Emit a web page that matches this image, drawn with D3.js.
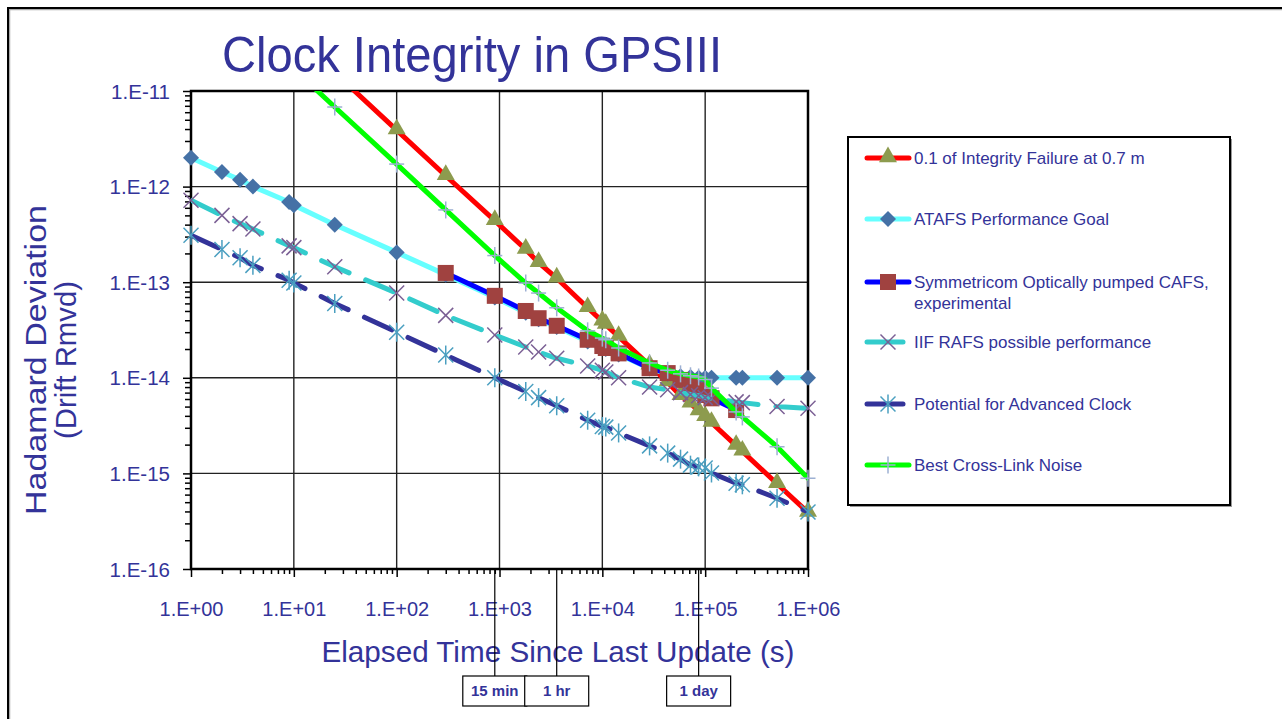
<!DOCTYPE html>
<html>
<head>
<meta charset="utf-8">
<script src="https://cdn.jsdelivr.net/npm/d3@7"></script>
<style>
  body { margin: 0; background: #fff; }
  svg { display: block; font-family: "Liberation Sans", Arial, sans-serif; }
</style>
</head>
<body>
<div id="chart"></div>
<script>
////////////////////////////////////////////////////////////////////////
// Data (elapsed time in s, Hadamard deviation)

let times = [1, 2, 3, 4, 9, 10, 25, 100, 300, 900, 1800, 2400, 3600, 7200, 10000, 10800,
  14400, 28800, 43200, 57600, 72000, 86400, 100000, 115200, 200000, 230000, 500000, 1000000];

let integrityT = [10, 25, 100, 300, 900, 1800, 2400, 3600, 7200, 10000, 10800, 14400, 28800,
  43200, 57600, 72000, 86400, 100000, 115200, 200000, 230000, 500000, 1000000];
let integrityV = [3.9e-11, 1.56e-11, 3.9e-12, 1.3e-12, 4.4e-13, 2.2e-13, 1.6e-13, 1.1e-13, 5.4e-14,
  3.9e-14, 3.6e-14, 2.7e-14, 1.35e-14, 9.0e-15, 6.5e-15, 5.4e-15, 4.5e-15, 3.9e-15, 3.4e-15,
  1.95e-15, 1.7e-15, 7.8e-16, 3.9e-16];

let atafsV = [2.0e-12, 1.42e-12, 1.18e-12, 1.0e-12, 6.9e-13, 6.4e-13, 4.0e-13, 2.05e-13, 1.2e-13,
  6.9e-14, 4.8e-14, 4.1e-14, 3.4e-14, 2.4e-14, 2.05e-14, 2.0e-14, 1.75e-14, 1.25e-14, 1.1e-14,
  1.04e-14, 1.02e-14, 1.0e-14, 1.0e-14, 1.0e-14, 1.0e-14, 1.0e-14, 1.0e-14, 1.0e-14];

let symT = [300, 900, 1800, 2400, 3600, 7200, 10000, 10800, 14400, 28800, 43200, 57600, 72000,
  86400, 100000, 115200, 200000];
let symV = [1.25e-13, 7.2e-14, 5.0e-14, 4.2e-14, 3.5e-14, 2.5e-14, 2.15e-14, 2.05e-14, 1.8e-14,
  1.26e-14, 1.12e-14, 9.5e-15, 8.4e-15, 7.4e-15, 6.6e-15, 6.1e-15, 4.6e-15];

let iifV = [7.2e-13, 5.0e-13, 4.1e-13, 3.6e-13, 2.4e-13, 2.3e-13, 1.45e-13, 7.7e-14, 4.5e-14,
  2.8e-14, 2.1e-14, 1.86e-14, 1.6e-14, 1.33e-14, 1.2e-14, 1.15e-14, 1.0e-14, 8.0e-15, 7.5e-15,
  7.0e-15, 6.7e-15, 6.5e-15, 6.2e-15, 6.1e-15, 5.6e-15, 5.5e-15, 5.0e-15, 4.8e-15];

let advancedV = [3.1e-13, 2.2e-13, 1.8e-13, 1.5e-13, 1.05e-13, 9.8e-14, 6.0e-14, 3.0e-14, 1.73e-14,
  1.0e-14, 7.2e-15, 6.2e-15, 5.1e-15, 3.6e-15, 3.1e-15, 3.05e-15, 2.65e-15, 1.94e-15, 1.63e-15,
  1.41e-15, 1.22e-15, 1.17e-15, 1.14e-15, 1.01e-15, 7.9e-16, 7.6e-16, 5.5e-16, 3.95e-16];

let crossT = [10, 25, 100, 300, 900, 1800, 2400, 3600, 7200, 10000, 10800, 14400, 28800, 43200,
  57600, 72000, 86400, 100000, 115200, 200000, 230000, 500000, 1000000];
let crossV = [1.7e-11, 6.8e-12, 1.72e-12, 5.7e-13, 1.9e-13, 9.8e-14, 7.7e-14, 5.4e-14, 3.1e-14,
  2.6e-14, 2.5e-14, 2.05e-14, 1.43e-14, 1.2e-14, 1.1e-14, 1.05e-14, 1.02e-14, 9.6e-15, 7.8e-15,
  4.4e-15, 3.9e-15, 1.9e-15, 8.9e-16];

let xMajor = [1, 10, 100, 1e3, 1e4, 1e5, 1e6];
let yMajor = [1e-16, 1e-15, 1e-14, 1e-13, 1e-12, 1e-11];

let markT = [900, 3600, 86400];
let markLabels = ["15 min", "1 hr", "1 day"];

////////////////////////////////////////////////////////////////////////
// Series styles

let zip = (ts, vs) => ts.map((t, i) => ({ t: t, v: vs[i] }));

let series = [
  { name: ["0.1 of Integrity Failure at 0.7 m"], data: zip(integrityT, integrityV),
    line: "#ff0000", dash: null, marker: "triangle", mcolor: "#8d9b4e" },
  { name: ["ATAFS Performance Goal"], data: zip(times, atafsV),
    line: "#66ffff", dash: null, marker: "diamond", mcolor: "#4571a6" },
  { name: ["Symmetricom Optically pumped CAFS,", "experimental"], data: zip(symT, symV),
    line: "#0000ff", dash: null, marker: "square", mcolor: "#a04240" },
  { name: ["IIF RAFS possible  performance"], data: zip(times, iifV),
    line: "#33cccc", dash: "30,18", marker: "x", mcolor: "#7a5f94" },
  { name: ["Potential for Advanced Clock"], data: zip(times, advancedV),
    line: "#333399", dash: "30,18", marker: "star", mcolor: "#4a9fc0" },
  { name: ["Best Cross-Link  Noise"], data: zip(crossT, crossV),
    line: "#00ff00", dash: null, marker: "plus", mcolor: "#9db0d3" }
];

////////////////////////////////////////////////////////////////////////
// SVG setup

let W = 1282, H = 719;
let plot = { left: 191, top: 91, right: 808, bottom: 569 };
let textColor = "#333399";

let svg = d3.select("#chart").append("svg")
  .attr("width", W).attr("height", H);

let x = d3.scaleLog().domain([1, 1e6]).range([plot.left, plot.right]);
let y = d3.scaleLog().domain([1e-16, 1e-11]).range([plot.bottom, plot.top]);

// page frame (top and left only)
svg.append("path")
  .attr("d", `M9.5,${H} V9.5 H${W}`)
  .attr("fill", "none").attr("stroke", "#aaa").attr("stroke-width", 1.5);
svg.append("path")
  .attr("d", `M8,${H} V8 H${W}`)
  .attr("fill", "none").attr("stroke", "#000").attr("stroke-width", 2);

// title
svg.append("text")
  .attr("x", 472).attr("y", 72)
  .attr("text-anchor", "middle")
  .attr("textLength", 500).attr("lengthAdjust", "spacingAndGlyphs")
  .style("font-size", "50px").style("fill", textColor)
  .text("Clock Integrity in GPSIII");

////////////////////////////////////////////////////////////////////////
// Grid, ticks and axes

let grid = svg.append("g");
grid.selectAll(".vgrid").data(xMajor.slice(1, -1)).enter().append("line")
  .attr("x1", d => x(d)).attr("x2", d => x(d))
  .attr("y1", plot.top).attr("y2", plot.bottom)
  .attr("stroke", "#222").attr("stroke-width", 1.4);
grid.selectAll(".hgrid").data(yMajor.slice(1, -1)).enter().append("line")
  .attr("x1", plot.left).attr("x2", plot.right)
  .attr("y1", d => y(d)).attr("y2", d => y(d))
  .attr("stroke", "#222").attr("stroke-width", 1.4);

let minors = (majors) => {
  let out = [];
  majors.slice(0, -1).forEach(m => { for (let k = 2; k < 10; k++) out.push(m * k); });
  return out;
};

let fmtX = d => "1.E+" + String(Math.round(Math.log10(d))).padStart(2, "0");
let fmtY = d => "1.E" + Math.round(Math.log10(d));

// bottom axis
let xAxisG = svg.append("g").attr("transform", `translate(0,${plot.bottom})`);
xAxisG.append("g").call(d3.axisBottom(x).tickValues(minors(xMajor)).tickSize(5).tickFormat(""));
xAxisG.append("g").call(d3.axisBottom(x).tickValues(xMajor).tickSize(8).tickFormat(fmtX));
xAxisG.selectAll(".domain").remove();
xAxisG.selectAll("line").attr("stroke", "#000").attr("stroke-width", 1.5);
xAxisG.selectAll("text")
  .attr("y", 47).attr("dy", 0)
  .style("font-size", "20px").style("fill", textColor)
  .style("font-family", "'Liberation Sans', Arial, sans-serif");

// left axis
let yAxisG = svg.append("g").attr("transform", `translate(${plot.left},0)`);
yAxisG.append("g").call(d3.axisLeft(y).tickValues(minors(yMajor)).tickSize(6).tickFormat(""));
yAxisG.append("g").call(d3.axisLeft(y).tickValues(yMajor).tickSize(8).tickFormat(fmtY));
yAxisG.selectAll(".domain").remove();
yAxisG.selectAll("line").attr("stroke", "#000").attr("stroke-width", 1.5);
yAxisG.selectAll("text")
  .attr("x", -21).attr("dy", "0.35em")
  .style("font-size", "20.5px").style("fill", textColor)
  .style("font-family", "'Liberation Sans', Arial, sans-serif");

// plot frame
svg.append("rect")
  .attr("x", plot.left).attr("y", plot.top)
  .attr("width", plot.right - plot.left).attr("height", plot.bottom - plot.top)
  .attr("fill", "none").attr("stroke", "#000").attr("stroke-width", 2.5);

// axis titles
svg.append("text")
  .attr("x", 558).attr("y", 662)
  .attr("text-anchor", "middle")
  .attr("textLength", 473).attr("lengthAdjust", "spacingAndGlyphs")
  .style("font-size", "30px").style("fill", textColor)
  .text("Elapsed Time Since Last Update (s)");

let yTitle = svg.append("g").attr("transform", "translate(0,360) rotate(-90)");
yTitle.append("text")
  .attr("x", 0).attr("y", 46)
  .attr("text-anchor", "middle")
  .attr("textLength", 310).attr("lengthAdjust", "spacingAndGlyphs")
  .style("font-size", "29px").style("fill", textColor)
  .text("Hadamard Deviation");
yTitle.append("text")
  .attr("x", 0).attr("y", 76)
  .attr("text-anchor", "middle")
  .attr("textLength", 158).attr("lengthAdjust", "spacingAndGlyphs")
  .style("font-size", "29px").style("fill", textColor)
  .text("(Drift Rmvd)");

////////////////////////////////////////////////////////////////////////
// Series lines and markers

svg.append("clipPath").attr("id", "plotclip")
  .append("rect")
  .attr("x", plot.left).attr("y", plot.top)
  .attr("width", plot.right - plot.left).attr("height", plot.bottom - plot.top);

let line = d3.line().x(d => x(d.t)).y(d => y(d.v));

function drawMarker(g, type, color) {
  if (type === "triangle") {
    g.append("path").attr("d", d3.symbol().type(d3.symbolTriangle).size(140)())
      .attr("transform", "translate(0,-1)").attr("fill", color);
  } else if (type === "square") {
    g.append("rect").attr("x", -8).attr("y", -8).attr("width", 16).attr("height", 16)
      .attr("fill", color);
  } else if (type === "diamond") {
    g.append("path").attr("d", "M0,-8L8,0L0,8L-8,0Z").attr("fill", color);
  } else {
    let r = 7.5, segs = [];
    if (type === "x" || type === "star") segs.push([-r, -r, r, r], [-r, r, r, -r]);
    if (type === "star") segs.push([0, -r - 2, 0, r + 2]);
    if (type === "plus") segs.push([-r, 0, r, 0], [0, -r - 1, 0, r + 1]);
    segs.forEach(s => g.append("line")
      .attr("x1", s[0]).attr("y1", s[1]).attr("x2", s[2]).attr("y2", s[3])
      .attr("stroke", color).attr("stroke-width", 1.5));
  }
}

let inDomain = d => d.t >= 1 && d.t <= 1e6 && d.v >= 1e-16 && d.v <= 1e-11 * 1.0001;

series.forEach(s => {
  let g = svg.append("g");
  g.append("path")
    .datum(s.data)
    .attr("clip-path", "url(#plotclip)")
    .attr("d", line)
    .attr("fill", "none")
    .attr("stroke", s.line)
    .attr("stroke-width", 5)
    .attr("stroke-linecap", "round")
    .attr("stroke-linejoin", "round")
    .attr("stroke-dasharray", s.dash);
  g.selectAll(".mk")
    .data(s.data.filter(inDomain))
    .enter().append("g")
    .attr("transform", d => `translate(${x(d.t)},${y(d.v)})`)
    .each(function() { drawMarker(d3.select(this), s.marker, s.mcolor); });
});

////////////////////////////////////////////////////////////////////////
// Legend

let legend = svg.append("g");
legend.append("rect")
  .attr("x", 850).attr("y", 139).attr("width", 382).attr("height", 368)
  .attr("fill", "#999");
legend.append("rect")
  .attr("x", 848).attr("y", 137).attr("width", 382).attr("height", 368)
  .attr("fill", "#fff").attr("stroke", "#000").attr("stroke-width", 2);

let legendY = [158, 219, 282, 342, 404, 465];
series.forEach((s, i) => {
  let ly = legendY[i];
  let x2 = s.dash ? 903 : 909;
  legend.append("line")
    .attr("x1", 867).attr("x2", x2).attr("y1", ly).attr("y2", ly)
    .attr("stroke", s.line).attr("stroke-width", 5).attr("stroke-linecap", "round");
  let mg = legend.append("g").attr("transform", `translate(888,${ly})`);
  drawMarker(mg, s.marker, s.mcolor);
  s.name.forEach((t, j) => {
    legend.append("text")
      .attr("x", 914).attr("y", ly + j * 21)
      .attr("dy", "0.35em")
      .style("font-size", "17px").style("fill", textColor)
      .text(t);
  });
});

////////////////////////////////////////////////////////////////////////
// Time markers below the x axis

let boxW = 64, boxTop = 676, boxH = 30;
markT.forEach((t, i) => {
  let cx = x(t);
  svg.append("line")
    .attr("x1", cx).attr("x2", cx).attr("y1", plot.bottom).attr("y2", boxTop)
    .attr("stroke", "#000").attr("stroke-width", 1.2);
  svg.append("rect")
    .attr("x", cx - boxW / 2).attr("y", boxTop).attr("width", boxW).attr("height", boxH)
    .attr("fill", "#fff").attr("stroke", "#000").attr("stroke-width", 1.2);
  svg.append("text")
    .attr("x", cx).attr("y", boxTop + boxH / 2).attr("dy", "0.35em")
    .attr("text-anchor", "middle")
    .style("font-size", "15px").style("font-weight", "bold").style("fill", textColor)
    .text(markLabels[i]);
});
</script>
</body>
</html>
